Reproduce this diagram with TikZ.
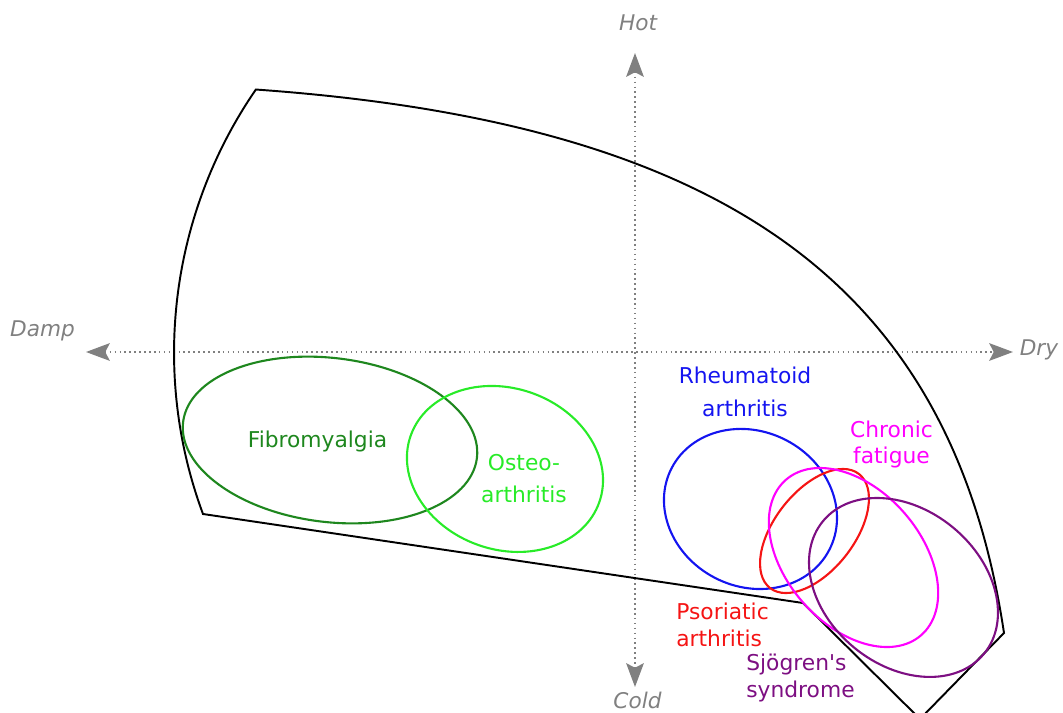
\documentclass[tikz,border=0pt]{standalone}
\usepackage{fontspec}
\setmainfont{DejaVu Sans}[ItalicFont={DejaVu Sans Oblique},Ligatures=TeXOff]
\usetikzlibrary{arrows.meta}
\definecolor{axisgray}{RGB}{128,128,128}
\definecolor{fibro}{RGB}{30,135,30}
\definecolor{osteo}{RGB}{40,235,40}
\definecolor{rheum}{RGB}{20,20,240}
\definecolor{psor}{RGB}{245,20,20}
\definecolor{fatig}{RGB}{255,0,255}
\definecolor{sjog}{RGB}{125,15,130}
\tikzset{
  rim/.style     = {draw, line width=1.1pt, line join=miter},
  zone/.style    = {draw, line width=1.2pt},
  axis/.style    = {draw=axisgray, line width=1pt, dash pattern=on 0.9pt off 1.9pt,
                    {Stealth[length=13.5pt,width=10pt,inset=2.5pt]}-{Stealth[length=13.5pt,width=10pt,inset=2.5pt]}},
  pole/.style    = {inner sep=0pt, text=axisgray, font=\fontsize{12.3}{14}\selectfont\itshape},
  tag/.style     = {inner sep=0pt, align=center, font=\fontsize{12.4}{15.3}\selectfont},
  tagwide/.style = {tag, font=\fontsize{12.4}{18.4}\selectfont}
}
\begin{document}
\begin{tikzpicture}[x=0.02cm,y=-0.02cm]
  \useasboundingbox (0,0) rectangle (1063,713);

  % ---- axes ----
  \node[pole] (hot)  at (638,22.3)   {Hot};
  \node[pole] (cold) at (637.5,700)  {Cold};
  \node[pole] (damp) at (42.5,330.5) {Damp};
  \node[pole] (dry)  at (1039,349.5) {Dry};
  \coordinate (hotend)  at (635,53);
  \coordinate (coldend) at (635,687);
  \coordinate (dampend) at (86,352);
  \coordinate (dryend)  at (1013,352);
  \draw[axis] (dampend) -- (dryend);
  \draw[axis] (hotend) -- (coldend);

  % ---- outline ----
  \draw[rim] (203,514) arc [start angle=159.65, end angle=214.55, radius=464]
    .. controls (727,123) and (952,286) .. (1004,633)
    -- (920,719) -- (803,603) -- cycle;

  % ---- conditions ----
  \coordinate (cfib)  at (330,440);
  \coordinate (cost)  at (505,469);
  \coordinate (crhe)  at (750.5,509);
  \coordinate (cpso)  at (814.5,531);
  \coordinate (cfat)  at (853.5,557.5);
  \coordinate (csjo)  at (903.5,587.5);
  \draw[zone, fibro, rotate around={-7:(cfib)}]   (cfib) ellipse [x radius=148, y radius=82];
  \draw[zone, osteo, rotate around={-19.5:(cost)}] (cost) ellipse [x radius=100, y radius=80.6];
  \draw[zone, rheum, rotate around={-27.5:(crhe)}] (crhe) ellipse [x radius=88.8, y radius=77.5];
  \draw[zone, psor,  rotate around={52:(cpso)}]    (cpso) ellipse [x radius=72.3, y radius=39.8];
  \draw[zone, fatig, rotate around={-49:(cfat)}]   (cfat) ellipse [x radius=103, y radius=67.6];
  \draw[zone, sjog,  rotate around={-39.5:(csjo)}] (csjo) ellipse [x radius=104.3, y radius=77.8];

  % ---- labels ----
  \node[tag, text=fibro] (fibtag) at (317.5,441.2) {Fibromyalgia};
  \node[tagwide, text=osteo] (osttag) at (524,478.7) {Osteo-\\arthritis};
  \node[tagwide, text=rheum] (rhetag) at (745,392) {Rheumatoid\\arthritis};
  \node[tag, text=fatig] (fattag) at (891.5,444.5) {Chronic\\fatigue};
  \node[tag, text=psor, align=left, anchor=west] (psotag) at (676,624.5) {Psoriatic\\arthritis};
  \node[tag, text=sjog, align=left, anchor=west] (sjotag) at (746,677.7) {Sjögren's\\syndrome};
\end{tikzpicture}
\end{document}
